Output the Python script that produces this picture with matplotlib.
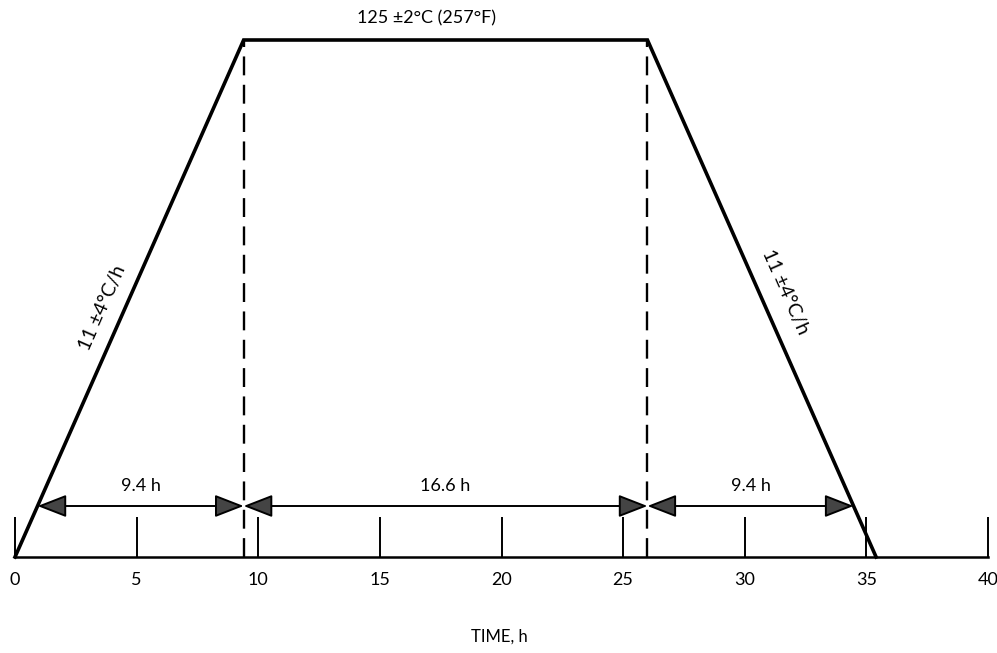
import numpy as np
import matplotlib
matplotlib.use("Agg")
import matplotlib.pyplot as plt

plt.rcParams['font.family'] = ['Lato', 'DejaVu Sans']

# temperature profile (time in h, temperature in degC)
profile_time = [0.0, 9.4, 26.0, 35.4]
profile_temp = [21.6, 125.0, 125.0, 21.6]
ramp_rate = 11.0          # degC/h
x_ticks = [0, 5, 10, 15, 20, 25, 30, 35, 40]
x_ticklabels = ['0', '5', '10', '15', '20', '25', '30', '35', '40']
span_labels = ['9.4 h', '16.6 h', '9.4 h']
top_label = '125 \u00b12\u00b0C (257\u00b0F)'
ramp_label = '11 \u00b14\u00b0C/h'
x_label = 'TIME, h'

fig = plt.figure(figsize=(9.97, 6.53), dpi=100)
ax = fig.add_axes([15 / 997, 96 / 653, 973 / 997, 517 / 653])
ax.set_xlim(0, 40)
ax.set_ylim(profile_temp[0], profile_temp[1])

# trapezoid
ax.plot(profile_time, profile_temp, color='black', lw=2.6, clip_on=False,
        solid_joinstyle='miter')

# dashed verticals at the plateau ends
for t in profile_time[1:3]:
    ax.plot([t, t], [profile_temp[0], profile_temp[1]], color='black', lw=1.7,
            dashes=(8, 4), clip_on=False)

# dimension arrows
arrow_y = 31.8
rise = (arrow_y - profile_temp[0]) / ramp_rate
bounds = [profile_time[0] + rise, profile_time[1], profile_time[2], profile_time[3] - rise]
for i in range(3):
    ax.annotate('', xy=(bounds[i + 1], arrow_y), xytext=(bounds[i], arrow_y),
                arrowprops=dict(arrowstyle='<|-|>,head_length=1.8,head_width=0.7',
                                mutation_scale=10, shrinkA=0, shrinkB=0,
                                facecolor='#444444', edgecolor='black', lw=1.4))
    ax.text((bounds[i] + bounds[i + 1]) / 2, arrow_y + 2.4, span_labels[i],
            ha='center', va='bottom', fontsize=13)

ax.text(16.9, 129.4, top_label, ha='center', va='center', fontsize=13)

# ramp labels
ang = np.degrees(np.arctan2(ramp_rate, 1.0))
ax.text(3.6, 71.4, ramp_label, rotation=ang, transform_rotates_text=True,
        rotation_mode='anchor', ha='center', va='center', fontsize=14)
ax.text(31.65, 74.6, ramp_label, rotation=-ang, transform_rotates_text=True,
        rotation_mode='anchor', ha='center', va='center', fontsize=14)

for s in ['top', 'right', 'left']:
    ax.spines[s].set_visible(False)
ax.spines['bottom'].set_linewidth(1.8)
ax.set_yticks([])
ax.set_xticks(x_ticks)
ax.set_xticklabels(x_ticklabels, fontsize=13)
ax.tick_params(axis='x', direction='in', length=29, width=1.4, pad=11)
fig.text(0.501, 0.025, x_label, ha='center', va='center', fontsize=12)
ax.patch.set_visible(False)

fig.savefig('out.png', dpi=100)
